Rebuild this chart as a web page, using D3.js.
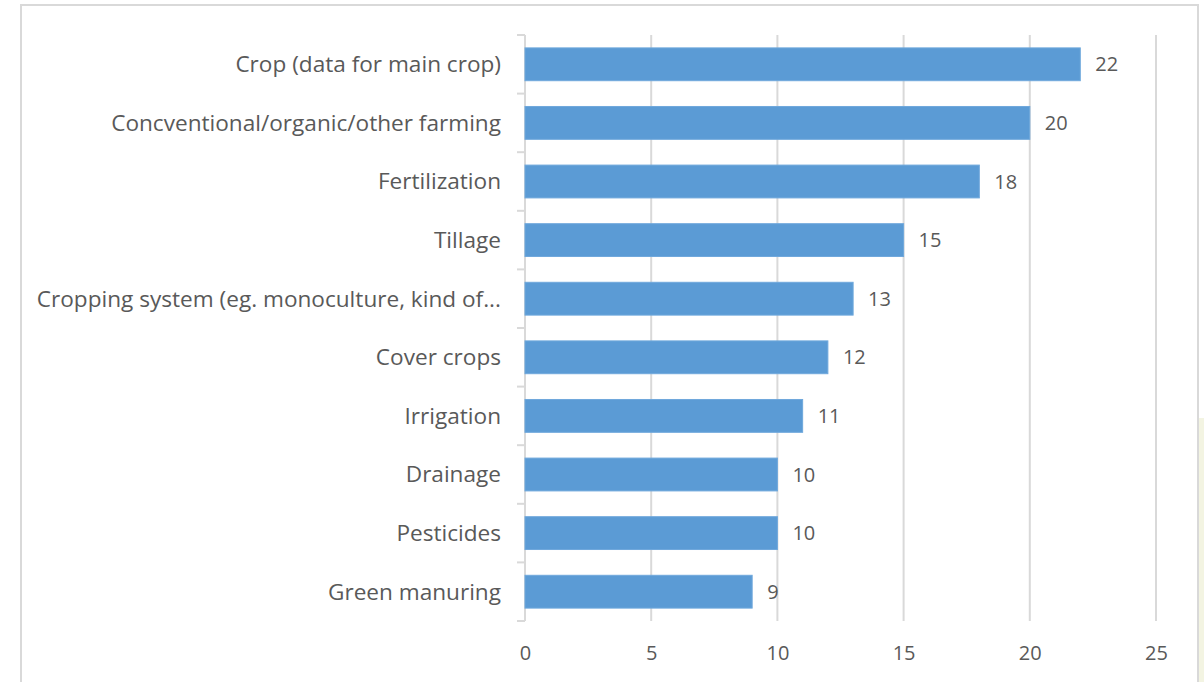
<!DOCTYPE html>
<html>
<head>
<meta charset="utf-8">
<script src="https://cdn.jsdelivr.net/npm/d3@7"></script>
<style>
  html, body { margin: 0; padding: 0; background: #fff; }
  svg { display: block; }
</style>
</head>
<body>
<svg id="chart" width="1204" height="682"></svg>
<script>
const categories = [
  "Crop (data for main crop)",
  "Concventional/organic/other farming",
  "Fertilization",
  "Tillage",
  "Cropping system (eg. monoculture, kind of...",
  "Cover crops",
  "Irrigation",
  "Drainage",
  "Pesticides",
  "Green manuring"
];
const counts = [22, 20, 18, 15, 13, 12, 11, 10, 10, 9];
const xTicks = [0, 5, 10, 15, 20, 25];

const svg = d3.select("#chart");
const font = "'Open Sans', 'Noto Sans', sans-serif";
const textColor = "#595959";
const gridColor = "#d9d9d9";

// chart frame
svg.append("rect")
  .attr("x", 21).attr("y", 5)
  .attr("width", 1177).attr("height", 700)
  .attr("fill", "#fff")
  .attr("stroke", "#d9d9d9").attr("stroke-width", 2);

// faint strip beside the frame
svg.append("rect")
  .attr("x", 1199).attr("y", 418).attr("width", 5).attr("height", 264)
  .attr("fill", "#f3f4e2");

const plot = { left: 525, right: 1156, top: 35, bottom: 621 };

const x = d3.scaleLinear().domain([0, 25]).range([plot.left, plot.right]);
const y = d3.scaleBand().domain(categories).range([plot.top, plot.bottom]).paddingInner(0.44).paddingOuter(0.22);

// vertical gridlines
svg.append("g").selectAll("line").data(xTicks.filter(d => d > 0)).join("line")
  .attr("x1", d => x(d)).attr("x2", d => x(d))
  .attr("y1", plot.top).attr("y2", plot.bottom)
  .attr("stroke", gridColor).attr("stroke-width", 2);

// x axis labels
const xAxis = d3.axisBottom(x).tickValues(xTicks).tickSize(0).tickPadding(0);
const gx = svg.append("g").attr("transform", `translate(0,${plot.bottom + 39})`).call(xAxis);
gx.select(".domain").remove();
gx.selectAll("text")
  .attr("fill", textColor).attr("font-family", font).attr("font-size", 20).attr("dy", 0);

// category axis line with ticks between categories
const step = (plot.bottom - plot.top) / categories.length;
const catAxis = svg.append("g");
catAxis.append("line")
  .attr("x1", plot.left).attr("x2", plot.left)
  .attr("y1", plot.top).attr("y2", plot.bottom)
  .attr("stroke", gridColor).attr("stroke-width", 2);
catAxis.selectAll("line.tick").data(d3.range(categories.length + 1)).join("line")
  .attr("class", "tick")
  .attr("x1", plot.left - 8).attr("x2", plot.left)
  .attr("y1", i => plot.top + i * step).attr("y2", i => plot.top + i * step)
  .attr("stroke", gridColor).attr("stroke-width", 2);

// bars
svg.append("g").selectAll("rect").data(categories).join("rect")
  .attr("x", x(0))
  .attr("y", d => y(d))
  .attr("width", (d, i) => x(counts[i]) - x(0))
  .attr("height", y.bandwidth())
  .attr("fill", "#5b9bd5")
  .attr("stroke", "#6fa8dc").attr("stroke-width", 1);

// category labels
svg.append("g").selectAll("text").data(categories).join("text")
  .attr("x", plot.left - 24)
  .attr("y", d => y(d) + y.bandwidth() / 2)
  .attr("dy", "0.35em")
  .attr("text-anchor", "end")
  .attr("fill", textColor).attr("font-family", font).attr("font-size", 22.6)
  .text(d => d);

// value labels
svg.append("g").selectAll("text").data(categories).join("text")
  .attr("x", (d, i) => x(counts[i]) + 15)
  .attr("y", d => y(d) + y.bandwidth() / 2)
  .attr("dy", "0.35em")
  .attr("fill", textColor).attr("font-family", font).attr("font-size", 20)
  .text((d, i) => counts[i]);
</script>
</body>
</html>
